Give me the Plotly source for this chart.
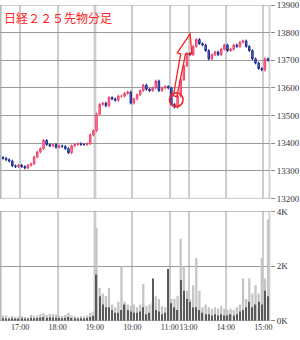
import plotly.graph_objects as go

# ---- data (5-minute bars) ----
close_night = [13345, 13340, 13335, 13318, 13315, 13320, 13315, 13310, 13320, 13325,
               13350, 13368, 13380, 13410, 13395, 13390, 13395, 13385, 13390, 13388,
               13380, 13365, 13390, 13395, 13398, 13395, 13395, 13398, 13430, 13445]
close_am = [13505, 13540, 13545, 13535, 13565, 13560, 13555, 13570, 13570, 13580,
            13585, 13545, 13560, 13575, 13590, 13610, 13595, 13590, 13600, 13625,
            13590, 13600, 13605, 13600]
close_pm = [13540, 13530, 13570, 13630, 13680, 13725, 13720, 13750, 13775, 13760,
            13755, 13735, 13705, 13720, 13730, 13720, 13740, 13755, 13735, 13740,
            13755, 13750, 13765, 13770, 13750, 13735, 13705, 13690, 13670, 13665,
            13705, 13700]

vol_light = [200, 200, 150, 180, 150, 160, 170, 150, 140, 220,
             180, 200, 250, 280, 220, 260, 250, 240, 200, 180,
             230, 300, 200, 180, 150, 170, 160, 200, 300, 350,
             3400, 1200, 1000, 900, 1200, 600, 500, 700, 2000, 700,
             600, 550, 600, 500, 600, 1350, 550, 600, 700, 900,
             800, 550, 500, 700,
             800, 800, 900, 3000, 2000, 1100, 800, 1300, 2300, 1100,
             500, 600, 500, 450, 500, 450, 550, 450, 400, 450,
             400, 500, 600, 1550, 800, 1550, 1000, 1300, 1000, 2300,
             1550, 3700]
vol_dark = [100, 90, 80, 100, 90, 80, 100, 90, 80, 120,
            100, 110, 130, 150, 120, 140, 130, 120, 110, 100,
            120, 150, 110, 100, 90, 100, 90, 110, 150, 180,
            1700, 900, 600, 500, 500, 400, 300, 300, 400, 600,
            400, 350, 300, 300, 350, 500, 250, 300, 1550, 400,
            350, 250, 300, 1900,
            650, 500, 400, 1500, 1100, 800, 700, 500, 500, 400,
            300, 250, 250, 200, 250, 200, 250, 200, 200, 250,
            200, 250, 350, 400, 500, 700, 500, 600, 700, 600,
            1100, 900]

tick_pos = [30, 90, 150, 210, 270, 300, 360, 420]
tick_text = ["17:00", "18:00", "19:00", "10:00", "11:00", "13:00", "14:00", "15:00"]
price_ticks = [13200, 13300, 13400, 13500, 13600, 13700, 13800, 13900]
price_text = ["13200", "13300", "13400", "13500", "13600", "13700", "13800", "13900"]
vol_ticks = [0, 2000, 4000]
vol_text = ["0K", "2K", "4K"]
title_text = "日経２２５先物分足"

# ---- build ----
closes = close_night + close_am + close_pm
xs = [i * 5 + 2.5 for i in range(len(closes))]
opens = [closes[0] + 3] + closes[:-1]
highs = [max(o, c) + 5 for o, c in zip(opens, closes)]
lows = [min(o, c) - 5 for o, c in zip(opens, closes)]

W, H = 300, 340
ML, MR, MT, MB = 0, 22, 4, 19
PW, PH = W - ML - MR, H - MT - MB
XR = [-2.3, 430.7]

def py2paper(py):
    return (H - MB - py) / PH

fig = go.Figure()
fig.add_trace(go.Candlestick(
    x=xs, open=opens, high=highs, low=lows, close=closes,
    increasing=dict(line=dict(color="#f0406a", width=1), fillcolor="#ff8aa0"),
    decreasing=dict(line=dict(color="#1c2c90", width=1), fillcolor="#5a78d8"),
    whiskerwidth=0, xaxis="x", yaxis="y", showlegend=False, hoverinfo="skip"))
fig.add_trace(go.Bar(x=xs, y=vol_light, width=3.6, marker=dict(color="#c4c4c4", line_width=0),
                     xaxis="x2", yaxis="y2", showlegend=False, hoverinfo="skip"))
fig.add_trace(go.Bar(x=xs, y=vol_dark, width=2.0, marker=dict(color="#5a5a5a", line_width=0),
                     xaxis="x2", yaxis="y2", showlegend=False, hoverinfo="skip"))

font_ax = dict(family="Liberation Sans Narrow", size=9, color="#333333")
xcommon = dict(range=XR, tickvals=tick_pos, showgrid=True, gridcolor="#cccccc", gridwidth=1.5,
               zeroline=False, showline=False, rangeslider=dict(visible=False), fixedrange=True)
fig.update_layout(
    width=W, height=H, margin=dict(l=ML, r=MR, t=MT, b=MB),
    paper_bgcolor="white", plot_bgcolor="white", barmode="overlay",
    xaxis=dict(**xcommon, domain=[0, 1], anchor="y", showticklabels=False, ticks=""),
    xaxis2=dict(**xcommon, domain=[0, 1], anchor="y2", ticktext=tick_text, ticks="",
                tickangle=0,
                tickfont=dict(family="Liberation Sans Narrow", size=8, color="#333333")),
    yaxis=dict(domain=[py2paper(198), 1], range=[13200, 13900], tickvals=price_ticks,
               ticktext=price_text,
               side="right", ticks="outside", ticklen=4, tickcolor="#888888",
               showgrid=True, gridcolor="#9a9a9a", gridwidth=1, zeroline=False,
               tickfont=font_ax, anchor="x"),
    yaxis2=dict(domain=[0, py2paper(211)], range=[0, 4000], tickvals=vol_ticks, ticktext=vol_text,
                side="right", ticks="outside", ticklen=4, tickcolor="#888888",
                showgrid=True, gridcolor="#9a9a9a", gridwidth=1, zeroline=False,
                tickfont=font_ax, anchor="x2"),
)

shapes = []
# session boundary, left and right edges
for yr in ("y domain", "y2 domain"):
    shapes.append(dict(type="line", xref="x", yref=yr, x0=150, x1=150, y0=0, y1=1,
                       line=dict(color="#b0b0b0", width=2.5), layer="below"))
    shapes.append(dict(type="line", xref="paper", yref=yr, x0=0.002, x1=0.002, y0=0, y1=1,
                       line=dict(color="#b8b8b8", width=2), layer="below"))
    shapes.append(dict(type="line", xref="paper", yref=yr, x0=0.998, x1=0.998, y0=0, y1=1,
                       line=dict(color="#d4d4d4", width=2), layer="below"))
# top/bottom gridlines at range edges
for yv in (13200, 13900):
    shapes.append(dict(type="line", xref="paper", yref="y", x0=0, x1=1, y0=yv, y1=yv,
                       line=dict(color="#9a9a9a", width=1)))
for yv in (0, 4000):
    shapes.append(dict(type="line", xref="paper", yref="y2", x0=0, x1=1, y0=yv, y1=yv,
                       line=dict(color="#9a9a9a", width=1)))

# red circle + hollow arrow annotation (pixel-defined)
def P(px, py):
    return f"{px / PW:.4f},{py2paper(py):.4f}"

shapes.append(dict(type="circle", xref="paper", yref="paper",
                   x0=174.5 / PW, x1=188.5 / PW, y0=py2paper(106), y1=py2paper(92),
                   line=dict(color="#ff2020", width=1.5)))
arrow = ("M " + P(178.5, 95) + " L " + P(186, 53) + " L " + P(182.5, 52) + " L " + P(195.7, 33)
         + " L " + P(197.5, 53) + " L " + P(191, 53) + " L " + P(182, 96) + " Z")
shapes.append(dict(type="path", xref="paper", yref="paper", path=arrow,
                   line=dict(color="#ff2020", width=1.3)))
fig.update_layout(shapes=shapes)

fig.add_annotation(text=title_text, xref="paper", yref="paper", x=2.5 / PW, y=py2paper(16.5),
                   xanchor="left", yanchor="middle", showarrow=False,
                   font=dict(family="Noto Sans CJK JP", size=12, color="#ff2222"))

fig.write_html("out.html")
